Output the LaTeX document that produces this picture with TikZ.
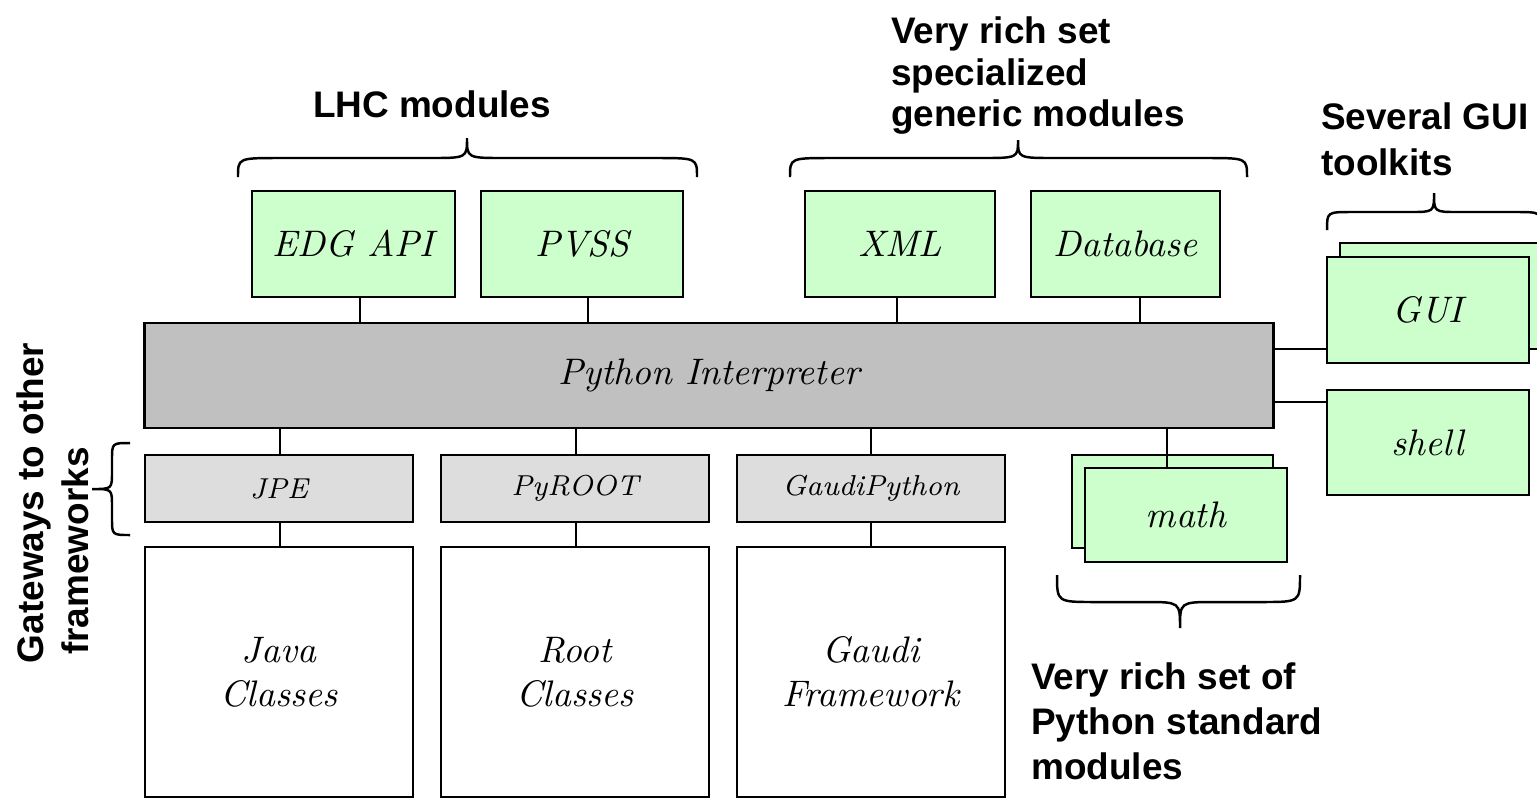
\documentclass[tikz,border=0pt]{standalone}
\usepackage{fontspec}
\setsansfont{Liberation Sans}
\usetikzlibrary{calc}
\definecolor{modgreen}{HTML}{CCFFCC}
\definecolor{interpgray}{HTML}{C0C0C0}
\definecolor{gategray}{HTML}{DDDDDD}
\begin{document}
\begin{tikzpicture}[x=0.01cm,y=-0.01cm,line width=0.7pt,
  box/.style={draw=black,rectangle,inner sep=0pt,align=center,
    font=\fontsize{10.5}{12.5}\selectfont\itshape},
  modbox/.style={box,fill=modgreen},
  interpbox/.style={box,fill=interpgray},
  gatebox/.style={box,fill=gategray,font=\fontsize{8.2}{10}\selectfont\itshape},
  fwbox/.style={box,fill=white},
  lbl/.style={inner sep=0pt,align=left,font=\sffamily\bfseries\fontsize{10.5}{13}\selectfont},
  brace/.style={draw=black,line width=0.7pt},
  conn/.style={draw=black,line width=0.7pt}]
\useasboundingbox (0,0) rectangle (1537,799);
\clip (0,0) rectangle (1537,799);

% top modules
\node[modbox,minimum width=2.03cm,minimum height=1.06cm] (edg) at (353.5,244) {EDG API};
\node[modbox,minimum width=2.02cm,minimum height=1.06cm] (pvss) at (582,244) {PVSS};
\node[modbox,minimum width=1.90cm,minimum height=1.06cm] (xml) at (900,244) {XML};
\node[modbox,minimum width=1.89cm,minimum height=1.06cm] (db) at (1125.5,244) {Database};

% interpreter
\node[interpbox,minimum width=11.28cm,minimum height=1.05cm] (interp) at (709,375.5) {Python Interpreter};

% gateways
\node[gatebox,minimum width=2.68cm,minimum height=0.67cm] (jpe) at (279,488.5) {JPE};
\node[gatebox,minimum width=2.68cm,minimum height=0.67cm] (pyroot) at (575,488.5) {PyROOT};
\node[gatebox,minimum width=2.68cm,minimum height=0.67cm] (gaudipy) at (871,488.5) {GaudiPython};

% frameworks
\node[fwbox,minimum width=2.68cm,minimum height=2.50cm] (java) at (279,672) {Java\\Classes};
\node[fwbox,minimum width=2.68cm,minimum height=2.50cm] (root) at (575,672) {Root\\Classes};
\node[fwbox,minimum width=2.68cm,minimum height=2.50cm] (gaudi) at (871,672) {Gaudi\\Framework};

% math
\node[modbox,minimum width=2.01cm,minimum height=0.93cm] (mathback) at (1172.5,501.5) {};
\node[modbox,minimum width=2.02cm,minimum height=0.94cm] (math) at (1186,515) {math};

% GUI and shell
\node[modbox,minimum width=2.40cm,minimum height=1.06cm] (guiback) at (1460,296) {};
\node[modbox,minimum width=2.02cm,minimum height=1.06cm] (gui) at (1428,310) {GUI};
\node[modbox,minimum width=2.02cm,minimum height=1.05cm] (shell) at (1428,442.5) {shell};

% connector positions
\coordinate (xa) at (360,0);
\coordinate (xb) at (588,0);
\coordinate (xc) at (897,0);
\coordinate (xd) at (1140,0);
\coordinate (xe) at (280,0);
\coordinate (xf) at (576,0);
\coordinate (xg) at (871,0);
\coordinate (xh) at (1167,0);
\coordinate (ya) at (0,349);
\coordinate (yb) at (0,402);

\draw[conn] (edg.south -| xa) -- (interp.north -| xa);
\draw[conn] (pvss.south -| xb) -- (interp.north -| xb);
\draw[conn] (xml.south -| xc) -- (interp.north -| xc);
\draw[conn] (db.south -| xd) -- (interp.north -| xd);
\draw[conn] (interp.south -| xe) -- (jpe.north -| xe);
\draw[conn] (interp.south -| xf) -- (pyroot.north -| xf);
\draw[conn] (interp.south -| xg) -- (gaudipy.north -| xg);
\draw[conn] (interp.south -| xh) -- (math.north -| xh);
\draw[conn] (jpe.south -| xe) -- (java.north -| xe);
\draw[conn] (pyroot.south -| xf) -- (root.north -| xf);
\draw[conn] (gaudipy.south -| xg) -- (gaudi.north -| xg);
\draw[conn] (interp.east |- ya) -- (gui.west |- ya);
\draw[conn] (interp.east |- yb) -- (shell.west |- yb);

% braces
\draw[brace] (238,177) .. controls (238,158) .. (280,158) -- (430,158)
  .. controls (467,158) .. (467,138) .. controls (467,158) .. (504,158)
  -- (655,158) .. controls (697,158) .. (697,177);
\draw[brace] (790,177) .. controls (790,158) .. (832,158) -- (981,158)
  .. controls (1018,158) .. (1018,140) .. controls (1018,158) .. (1055,158)
  -- (1205,158) .. controls (1247,158) .. (1247,177);
\draw[brace] (1327,230) .. controls (1327,212) .. (1352,212) -- (1410,212)
  .. controls (1434,212) .. (1434,193) .. controls (1434,212) .. (1458,212)
  -- (1516,212) .. controls (1541,212) .. (1541,230);
\draw[brace] (1057,575) .. controls (1057,602) .. (1095,602) -- (1145,602)
  .. controls (1180,602) .. (1180,628) .. controls (1180,602) .. (1215,602)
  -- (1262,602) .. controls (1300,602) .. (1300,575);
\draw[brace] (130,443) .. controls (112,443) .. (112,460) -- (112,472)
  .. controls (112,489) .. (92,489) .. controls (112,489) .. (112,506)
  -- (112,518) .. controls (112,535) .. (130,535);

% labels
\node[lbl,anchor=base] (lhc) at (432,117) {LHC modules};
\node[lbl,anchor=north west,font=\sffamily\bfseries\fontsize{10.5}{11.8}\selectfont] (generic) at (890,16) {Very rich set\\specialized\\generic modules};
\node[lbl,anchor=north west,font=\sffamily\bfseries\fontsize{10.5}{13.1}\selectfont] (guilbl) at (1320,101) {Several GUI\\toolkits};
\node[lbl,anchor=north west,font=\sffamily\bfseries\fontsize{10.5}{12.8}\selectfont] (stdlbl) at (1030,661) {Very rich set of\\Python standard\\modules};
\node[lbl,anchor=base,rotate=90] (gw1) at (43,503) {Gateways to other};
\node[lbl,anchor=base,rotate=90] (gw2) at (88,551) {frameworks};
\end{tikzpicture}
\end{document}
